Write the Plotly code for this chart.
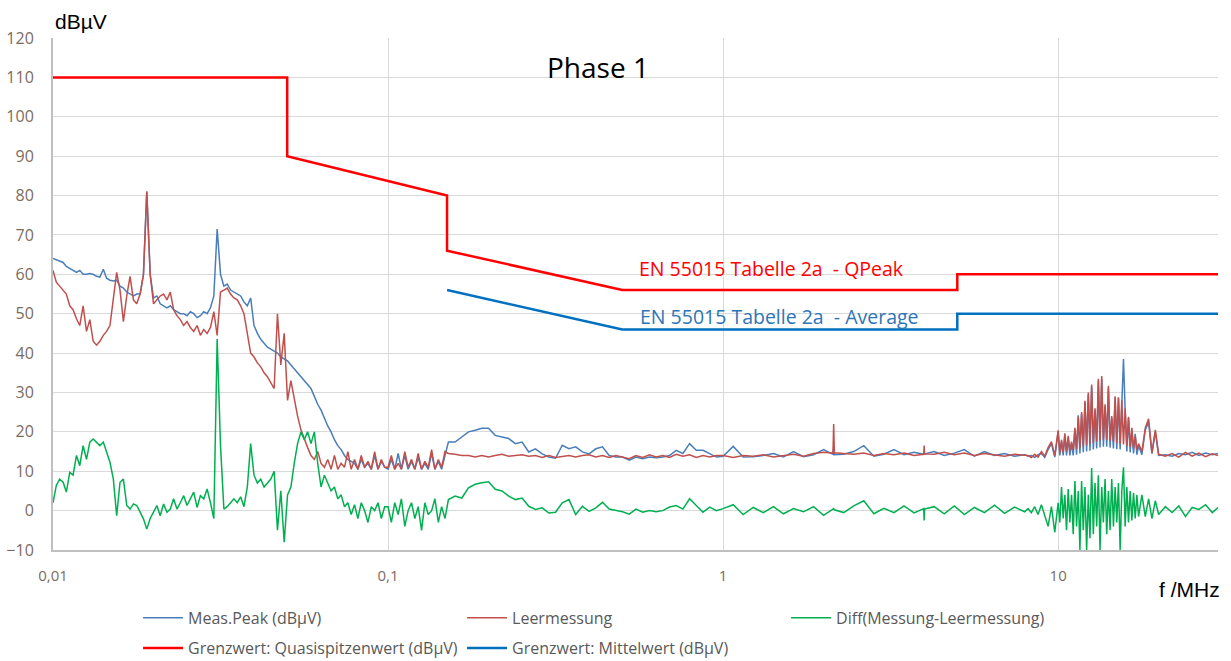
import plotly.graph_objects as go

# ---------------- frequencies (MHz) ----------------
freq_a = [0.01000, 0.01023, 0.01047, 0.01072, 0.01096, 0.01122, 0.01148, 0.01175, 0.01202, 0.01230,
          0.01259, 0.01288, 0.01318, 0.01349, 0.01380, 0.01413, 0.01445, 0.01479, 0.01514, 0.01549,
          0.01585, 0.01622, 0.01660, 0.01698, 0.01738, 0.01778, 0.01820, 0.01862, 0.01905, 0.01950,
          0.01995, 0.02042, 0.02089, 0.02138, 0.02188, 0.02239, 0.02291, 0.02344, 0.02399, 0.02455,
          0.02512, 0.02570, 0.02630, 0.02692, 0.02754, 0.02818, 0.02884, 0.02951, 0.03020, 0.03090,
          0.03162, 0.03236, 0.03311, 0.03388, 0.03467, 0.03548, 0.03631, 0.03715, 0.03802, 0.03890,
          0.03981, 0.04074, 0.04169, 0.04266, 0.04365, 0.04467, 0.04571, 0.04677, 0.04786, 0.04898,
          0.05012, 0.05129, 0.05248, 0.05370, 0.05495, 0.05623, 0.05754, 0.05888, 0.06026, 0.06166,
          0.06310, 0.06457, 0.06607, 0.06761, 0.06918, 0.07079, 0.07244, 0.07413, 0.07586, 0.07762,
          0.07943, 0.08128, 0.08318, 0.08511, 0.08710, 0.08913, 0.09120, 0.09333, 0.09550, 0.09772]
freq_b = [0.1000, 0.1023, 0.1047, 0.1072, 0.1096, 0.1122, 0.1148, 0.1175, 0.1202, 0.1230,
          0.1259, 0.1288, 0.1318, 0.1349, 0.1380, 0.1413, 0.1445, 0.1479]
freq_c = [0.1514, 0.1585, 0.1660, 0.1738, 0.1820, 0.1905, 0.1995, 0.2089, 0.2188, 0.2291,
          0.2399, 0.2512, 0.2630, 0.2754, 0.2884, 0.3020, 0.3162, 0.3311, 0.3467, 0.3631,
          0.3802, 0.3981, 0.4169, 0.4365, 0.4571, 0.4786, 0.5012, 0.5248, 0.5495, 0.5754,
          0.6026, 0.6310, 0.6607, 0.6918, 0.7244, 0.7586, 0.7943, 0.8318, 0.8710, 0.9120, 0.9550]
freq_d = [1.000, 1.072, 1.148, 1.230, 1.318, 1.413, 1.514, 1.622, 1.738, 1.862,
          1.995, 2.128, 2.138, 2.148, 2.291, 2.455, 2.630, 2.818, 3.020, 3.236,
          3.467, 3.715, 3.970, 3.981, 3.992, 4.266, 4.571, 4.898, 5.248, 5.623,
          6.026, 6.457, 6.918, 7.413, 7.943]
freq_e1 = [8.128, 8.318, 8.511, 8.710, 8.913, 9.120, 9.333, 9.550, 9.772]
freq_e2 = [10.000, 10.116, 10.233, 10.351, 10.471, 10.593, 10.715, 10.839, 10.965, 11.092,
           11.220, 11.350, 11.482, 11.614, 11.749, 11.885, 12.023, 12.162, 12.303, 12.445,
           12.589, 12.735, 12.882, 13.032, 13.183, 13.335, 13.490, 13.646, 13.804, 13.964,
           14.125, 14.289, 14.454, 14.622, 14.791, 14.962, 15.136, 15.311, 15.488, 15.668,
           15.849, 16.032, 16.218, 16.406, 16.596, 16.788, 16.982, 17.179, 17.378]
freq_e3 = [17.78, 18.20, 18.62, 19.05, 19.50, 19.95]
freq_f = [20.89, 21.88, 22.91, 23.99, 25.12, 26.30, 27.54, 28.84, 30.0]

# ---------------- Meas.Peak (dBµV) ----------------
peak_a = [64, 63.7, 63.5, 63, 62, 61.5, 61, 60.5, 61, 60,
          60, 60.2, 60, 59.5, 59.3, 61.3, 59, 58.5, 58.3, 58.5,
          57, 56.5, 55.5, 55, 54.5, 55, 55, 60, 81, 60,
          54, 54.5, 52.5, 52, 51.5, 52, 51, 50.5, 50, 50,
          49.5, 50.5, 50, 49, 49.5, 50.5, 50, 51.5, 54.5, 71.5,
          60, 57, 57.5, 56, 55.5, 55, 54.5, 53, 52, 54,
          47, 45, 43.5, 42.5, 41.5, 41, 40.5, 40, 39, 38.5,
          38, 37, 36, 35, 34, 33, 32, 31, 29, 27,
          25.5, 23.5, 21.5, 20, 18, 16.5, 15.5, 14, 13, 12.5,
          12, 10.5, 13, 11, 12, 10.5, 14, 10.5, 12.5, 11]
peak_b = [10.5, 13, 10.5, 14.5, 10.5, 14, 10.5, 12.5, 10.5, 13.5,
          10.5, 12, 10.5, 14.5, 10.5, 12.5, 10.5, 14]
peak_c = [17.4, 17.4, 18.7, 20, 20.4, 20.9, 20.9, 19.1, 18.7, 18.3,
          17, 17.4, 14.9, 15.7, 14.4, 13.6, 13.3, 16.6, 15.7, 16.2,
          14.9, 14.4, 15.7, 16.2, 14, 13.6, 13.6, 12.8, 13.6, 13.2,
          13.6, 13.4, 13.6, 14, 15.3, 14.5, 17, 15.3, 15.3, 14.5, 13.6]
peak_d = [13.8, 16.3, 13.6, 13.7, 14, 14.5, 13.6, 15, 13.7, 14.2,
          15.5, 14.3, 16, 14.2, 14.3, 15, 16.5, 13.8, 14.3, 15.5,
          14.2, 14.8, 14.3, 14.5, 14.4, 15, 14, 14.6, 15.5, 13.8,
          15, 14, 14.5, 13.8, 14.2]
peak_e1 = [13.8, 14, 13.5, 14.2, 14.5, 13.5, 15.5, 17, 13.6]
peak_e2 = [20, 14, 17.5, 14, 19, 14, 18.5, 14, 17, 14,
           20.5, 14.2, 24.2, 14.5, 24.5, 14.8, 27.5, 15, 29.5, 15.2,
           31.5, 15.5, 25.5, 15.8, 33, 16, 33.5, 16.2, 26.5, 16.2,
           31, 16, 23.5, 15.8, 28.5, 15.6, 28.5, 15.5, 27.5, 38.5,
           25.5, 15, 23.5, 14.8, 20.5, 14.5, 19.5, 14.2, 16.5]
peak_e3 = [14.2, 20.5, 22.5, 14.5, 20, 14]
peak_f = [14.2, 13.8, 14.5, 14.2, 14.8, 14, 14.6, 14.2, 14.5]

# ---------------- Leermessung ----------------
empty_a = [61, 58, 57, 56, 55, 52, 51, 48.7, 47, 52,
           45.5, 48.5, 43, 42, 43, 44.5, 45.5, 47, 53.5, 60.5,
           56, 48, 54.5, 59.5, 53.5, 52.5, 55, 60, 81, 60,
           52.5, 53.5, 54.5, 55, 53.5, 55.5, 51, 49.5, 48.5, 47,
           48, 46.5, 45.5, 47, 44.5, 46, 45, 46.5, 50.5, 44.5,
           55.5, 56, 56.5, 55, 54, 53.5, 52, 50, 45, 40,
           39, 37.5, 36.5, 35, 34, 32.5, 31, 50, 37, 45,
           28, 33, 28, 24, 20.5, 18, 16, 14, 13, 15,
           12, 11, 13, 10.5, 14, 10.5, 12, 11, 15, 10.5,
           13, 10.5, 14, 11, 12.5, 10.5, 15, 10.5, 13, 11]
empty_b = [11, 14, 10.5, 12, 10.5, 15, 11, 13, 10.5, 14.5,
           10.5, 12.5, 11, 15.5, 10.5, 13, 11, 15]
empty_c = [14.5, 14.3, 14, 14, 13.6, 14, 13.6, 14, 14.3, 13.8,
           14, 14.2, 13.8, 14, 13.5, 14, 13.5, 13.8, 14, 13.6,
           14, 14.2, 13.6, 14, 13.5, 14, 13.5, 13.2, 14, 13.5,
           14.2, 13.6, 14, 13.5, 14.3, 13.8, 14.2, 13.5, 14, 13.6, 14]
empty_d = [14, 13.5, 14, 13.8, 14.2, 13.6, 14, 14.3, 13.8, 14.5,
           14.8, 14.6, 22, 14.7, 14.5, 14.3, 14.6, 14, 14.5, 14.2,
           14.6, 14, 14.3, 16.5, 14.4, 14.3, 14.8, 14.2, 14.6, 14,
           14.5, 14.2, 13.8, 14.3, 14]
empty_e1 = [14, 13.5, 14.3, 13.6, 15, 13.8, 16, 17.5, 14]
empty_e2 = [20.4, 14.6, 18, 14.8, 19.6, 15, 19, 15.2, 17.5, 15.4,
            21, 15.6, 23.8, 16, 25, 16.3, 27.9, 16.6, 30, 17,
            32, 17.2, 26, 17.6, 33.5, 17.8, 34.2, 18, 27, 18,
            31.7, 17.8, 24, 17.5, 29, 17.2, 28.8, 17, 28, 16.8,
            26, 16.5, 23.8, 16.2, 21, 15.8, 19, 15.5, 17]
empty_e3 = [15, 21, 23.3, 14.6, 20.5, 14.3]
empty_f = [13.8, 14.5, 13.6, 14.8, 13.8, 14.6, 13.7, 14.4, 14.0]

# ---------------- Diff(Messung-Leermessung) ----------------
diff_a = [2, 6.4, 8, 7.2, 4.7, 9.7, 9, 14, 11.4, 16.5,
          13, 17.4, 18.2, 17.4, 16.5, 17.4, 14.8, 12.3, 8, -1.3,
          7.2, 8, 1.3, 0.4, 1.7, 1.3, -0.4, -2.1, -4.7, -2,
          -0.4, 1.3, -1.3, 1.7, -0.4, 0.4, 3, 0.4, 2, 3.8,
          1.3, 3, 4.7, 0.8, 3.8, 3, 5.5, 2, -2, 43.6,
          16.5, 0.4, 1, 2, 3, 2, 3.5, 1, 6, 17,
          9, 7, 8, 6, 7, 8, 10, -5, 5, -8,
          4, 6, 12, 17, 20, 18, 20, 17, 20, 12,
          6, 9, 7, 5, 6, 3, 4, 1, 2, -1,
          1.5, -2, 2, 0, -3, 1, 0, 2, -2, 1]
diff_b = [1, -3, 2, -1, 3, -4, 0, 2, -2, 1,
          -5, 2, -1, 0, 3, -3, 1, -2]
diff_c = [2.8, 3.7, 3.2, 5.8, 6.7, 7.1, 7.3, 5.4, 5, 3.7,
          2.8, 3.2, 1.1, 0.3, 0.7, -0.6, -0.4, 2, 2.8, -1,
          1.1, -0.2, 0.7, 2.1, 0.4, 0, -0.3, -0.9, 0.4, -0.4,
          0, -0.3, 0, 0.9, 1.3, 0.4, 3, 1.3, -0.4, 0.9, 0]
diff_d = [0.5, 1.5, -1, 0.8, -0.5, 1, -0.8, 0.5, -0.3, 1,
          -1.2, 0.3, 0.5, 0.2, -0.5, 1.2, 2.5, -0.8, 0.6, -0.5,
          1.2, -0.6, 0.5, -2.5, 0.4, 1, -0.8, 1.2, -1, 0.8,
          -0.5, 1.4, -0.7, 0.9, -0.3]
diff_e1 = [0.5, -0.5, 1, -1, 1.5, -1, -4, 1, -5.5]
diff_e2 = [2, -3, 6, -2, 4, -5, 5.5, -3, 4, -6,
           7.5, -4, 5, -10, 7.5, -5, 6, -10, 4, -7,
           10.8, -6, 7, -4, 9, -10, 6, -3, 8, -6,
           5, -5, 8, -4, 6, -3, 7, -10, 5, 11,
           -4, 6, -3, 5, -2.5, 4.5, -2, 4, -1.5]
diff_e3 = [4, -1.5, 3, -2, 2.5, -1]
diff_f = [1, -0.5, 1.2, -1.5, 0.8, 0.3, 1.5, -0.5, 0.8]

# ---------------- limit lines (EN 55015 Tabelle 2a) ----------------
qp_freq = [0.01, 0.05, 0.05, 0.15, 0.15, 0.5, 5, 5, 30]
qp_limit = [110, 110, 90, 80, 66, 56, 56, 60, 60]
avg_freq = [0.15, 0.5, 5, 5, 30]
avg_limit = [56, 46, 46, 50, 50]

x_tickvals = [0.01, 0.1, 1, 10]
x_ticktext = ["0,01", "0,1", "1", "10"]
y_tickvals = [-10, 0, 10, 20, 30, 40, 50, 60, 70, 80, 90, 100, 110, 120]

freq = freq_a + freq_b + freq_c + freq_d + freq_e1 + freq_e2 + freq_e3 + freq_f
peak = peak_a + peak_b + peak_c + peak_d + peak_e1 + peak_e2 + peak_e3 + peak_f
empty = empty_a + empty_b + empty_c + empty_d + empty_e1 + empty_e2 + empty_e3 + empty_f
diff = diff_a + diff_b + diff_c + diff_d + diff_e1 + diff_e2 + diff_e3 + diff_f

FONT = "Open Sans, Noto Sans, sans-serif"
GRAY = "#595959"
TICKGRAY = "#7A6C5F"

fig = go.Figure()
fig.add_trace(go.Scatter(x=freq, y=peak, mode="lines", name="Meas.Peak (dBµV)",
                         line=dict(color="#4A7EBB", width=1.5), legend="legend"))
fig.add_trace(go.Scatter(x=freq, y=empty, mode="lines", name="Leermessung",
                         line=dict(color="#C0504D", width=1.5), legend="legend"))
fig.add_trace(go.Scatter(x=freq, y=diff, mode="lines", name="Diff(Messung-Leermessung)",
                         line=dict(color="#00B050", width=1.5), legend="legend"))
fig.add_trace(go.Scatter(x=qp_freq, y=qp_limit, mode="lines", name="Grenzwert: Quasispitzenwert (dBµV)",
                         line=dict(color="#FF0000", width=2.5), legend="legend2"))
fig.add_trace(go.Scatter(x=avg_freq, y=avg_limit, mode="lines", name="Grenzwert: Mittelwert (dBµV)",
                         line=dict(color="#0070C0", width=2.5), legend="legend2"))

legend_common = dict(orientation="h", xanchor="left", yanchor="middle", x=0.073,
                     itemwidth=40, entrywidth=269, entrywidthmode="pixels",
                     font=dict(family=FONT, size=16, color=GRAY),
                     bgcolor="rgba(0,0,0,0)", borderwidth=0, traceorder="normal")

fig.update_layout(
    width=1231, height=661,
    margin=dict(l=53, r=13, t=38, b=111, autoexpand=False),
    paper_bgcolor="white", plot_bgcolor="white",
    font=dict(family=FONT, color=GRAY),
    showlegend=True,
    legend=dict(y=-0.1324, **legend_common),
    legend2=dict(y=-0.1915, **legend_common),
    xaxis=dict(type="log", range=[-2, 1.4771], tickvals=x_tickvals, ticktext=x_ticktext,
               showgrid=True, gridcolor="#D9D9D9", gridwidth=1.3,
               showline=True, linecolor="#BFBFBF", linewidth=2,
               ticks="outside", ticklen=11, tickcolor="rgba(0,0,0,0)", automargin=False,
               tickfont=dict(family=FONT, size=15, color=TICKGRAY), zeroline=False),
    yaxis=dict(range=[-10, 120], tickvals=y_tickvals,
               showgrid=True, gridcolor="#D9D9D9", gridwidth=1.3,
               showline=True, linecolor="#BFBFBF", linewidth=2,
               ticks="outside", ticklen=14, tickcolor="rgba(0,0,0,0)", automargin=False,
               tickfont=dict(family=FONT, size=16, color=TICKGRAY), zeroline=False),
    annotations=[
        dict(text="dBµV", xref="paper", yref="paper", x=0.0, y=1.033, xanchor="left", yanchor="middle",
             showarrow=False, font=dict(family="Liberation Sans, Arial, sans-serif", size=21, color="black")),
        dict(text="f /MHz", xref="paper", yref="paper", x=1.0034, y=-0.078, xanchor="right", yanchor="middle",
             showarrow=False, font=dict(family="Liberation Sans, Arial, sans-serif", size=21, color="black")),
        dict(text="Phase 1", xref="paper", yref="paper", x=0.468, y=0.943, xanchor="center", yanchor="middle",
             showarrow=False, font=dict(family=FONT, size=28, color="black")),
        dict(text="EN 55015 Tabelle 2a\u00a0 - QPeak", xref="paper", yref="paper", x=0.501, y=0.549,
             xanchor="left", yanchor="middle", showarrow=False,
             font=dict(family=FONT, size=19.5, color="#FF0000")),
        dict(text="EN 55015 Tabelle 2a\u00a0 - Average", xref="paper", yref="paper", x=0.502, y=0.457,
             xanchor="left", yanchor="middle", showarrow=False,
             font=dict(family=FONT, size=19.5, color="#2E75B6")),
    ],
)

fig.write_html("out.html", config={"displayModeBar": False},
               post_script="document.body.style.margin='0px';")
